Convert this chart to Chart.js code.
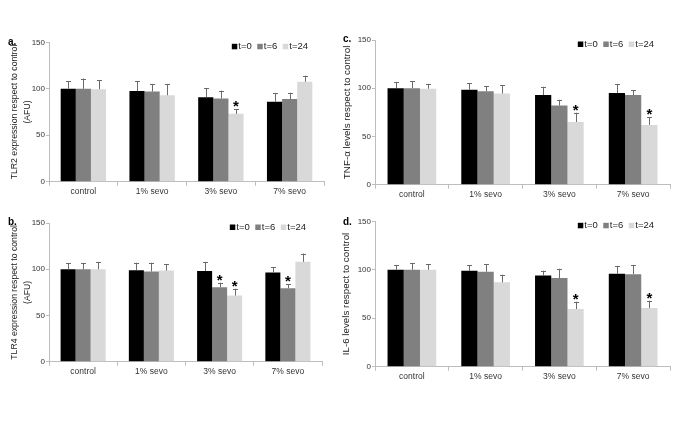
<!DOCTYPE html>
<html>
<head>
<meta charset="utf-8">
<script src="https://cdn.jsdelivr.net/npm/chart.js@4.4.1/dist/chart.umd.min.js"></script>
<style>
  body { margin: 0; background: #fff; width: 685px; height: 447px; overflow: hidden; position: relative; }
  canvas { position: absolute; }
</style>
</head>
<body>
<canvas id="panelA" width="342" height="205" style="left:0;top:0"></canvas>
<canvas id="panelB" width="342" height="242" style="left:0;top:205px"></canvas>
<canvas id="panelC" width="343" height="205" style="left:342px;top:0"></canvas>
<canvas id="panelD" width="343" height="242" style="left:342px;top:205px"></canvas>
<script>
// categories and series
const categories = ['control', '1% sevo', '3% sevo', '7% sevo'];
const seriesLabels = ['t=0', 't=6', 't=24'];
const seriesColors = ['#000000', '#808080', '#d9d9d9'];
const yTicks = [0, 50, 100, 150];

// a. TLR2
const tlr2T0 = [100, 97.5, 91, 86];
const tlr2T6 = [100, 97, 89.5, 89];
const tlr2T24 = [99.5, 93, 73, 107.5];
const tlr2ErrT0 = [8, 10.5, 9.5, 9];
const tlr2ErrT6 = [11, 8, 8.5, 6.7];
const tlr2ErrT24 = [9.5, 12, 5, 6.5];
const tlr2Stars = [[2, 2]]; // [category, series]

// b. TLR4
const tlr4T0 = [100, 99, 98, 96.5];
const tlr4T6 = [100, 97.5, 80.5, 79.5];
const tlr4T24 = [100, 98.5, 71.5, 108];
const tlr4ErrT0 = [6.5, 8, 10, 5.5];
const tlr4ErrT6 = [6.5, 9.5, 5, 4.3];
const tlr4ErrT24 = [8, 7, 7.5, 9];
const tlr4Stars = [[2, 1], [2, 2], [3, 1]];

// c. TNF-a
const tnfT0 = [100, 98.5, 93, 95];
const tnfT6 = [100, 97, 82, 93];
const tnfT24 = [99.5, 94.5, 65, 62];
const tnfErrT0 = [6.5, 6.5, 8.5, 9.5];
const tnfErrT6 = [7, 5, 6, 5];
const tnfErrT24 = [5, 8.5, 9.6, 8];
const tnfStars = [[2, 2], [3, 2]];

// d. IL-6
const il6T0 = [100, 99, 94, 96];
const il6T6 = [100, 98, 91.5, 95.5];
const il6T24 = [100, 87, 59.5, 60.5];
const il6ErrT0 = [5, 6, 5, 8];
const il6ErrT6 = [6.5, 8, 9.5, 9.5];
const il6ErrT24 = [6, 8, 7.5, 7.5];
const il6Stars = [[2, 2], [3, 2]];

const FONT = "'Liberation Sans', Arial, sans-serif";

// error bars, stars, legend and panel letter
const extrasPlugin = {
  id: 'extras',
  afterDatasetsDraw(chart) {
    const ctx = chart.ctx;
    const y = chart.scales.y;
    const opts = chart.options.plugins.extras;
    ctx.save();
    chart.data.datasets.forEach((ds, i) => {
      const meta = chart.getDatasetMeta(i);
      meta.data.forEach((bar, j) => {
        const top = y.getPixelForValue(ds.data[j] + ds.errors[j]);
        ctx.strokeStyle = '#6a6a6a';
        ctx.lineWidth = 1;
        ctx.beginPath();
        ctx.moveTo(Math.round(bar.x) + 0.5, bar.y);
        ctx.lineTo(Math.round(bar.x) + 0.5, top);
        ctx.moveTo(Math.round(bar.x) - 2, Math.round(top) + 0.5);
        ctx.lineTo(Math.round(bar.x) + 3, Math.round(top) + 0.5);
        ctx.stroke();
      });
    });
    // significance stars
    ctx.fillStyle = '#000';
    ctx.font = 'bold 15px ' + FONT;
    ctx.textAlign = 'center';
    ctx.textBaseline = 'alphabetic';
    const m = ctx.measureText('*');
    const mid = (m.actualBoundingBoxAscent - m.actualBoundingBoxDescent) / 2;
    opts.stars.forEach(([c, s]) => {
      const ds = chart.data.datasets[s];
      const bar = chart.getDatasetMeta(s).data[c];
      const top = y.getPixelForValue(ds.data[c] + ds.errors[c]);
      ctx.fillText('*', bar.x, top - 5 + mid);
    });
    // legend
    const area = chart.chartArea;
    ctx.font = '9.5px ' + FONT;
    ctx.textAlign = 'left';
    ctx.textBaseline = 'middle';
    const ly = area.top + 4.5;
    let x = area.right - 16;
    const items = chart.data.datasets.map(d => ({ label: d.label, color: d.backgroundColor }));
    for (let k = items.length - 1; k >= 0; k--) {
      const w = ctx.measureText(items[k].label).width;
      x -= w;
      ctx.fillStyle = '#222';
      ctx.fillText(items[k].label, x, ly);
      x -= 6.5;
      ctx.fillStyle = items[k].color;
      ctx.fillRect(x, ly - 3, 5.5, 5.5);
      x -= 5.5;
    }
    // panel letter
    ctx.fillStyle = '#000';
    ctx.font = 'bold 10px ' + FONT;
    ctx.fillText(opts.letter, opts.letterX, opts.letterY);
    ctx.restore();
  }
};

function makePanel(id, cfg) {
  const datasets = [cfg.t0, cfg.t6, cfg.t24].map((vals, i) => ({
    label: seriesLabels[i],
    data: vals,
    errors: cfg.errs[i],
    backgroundColor: seriesColors[i],
    borderWidth: 0,
    categoryPercentage: 0.66,
    barPercentage: 1
  }));
  return new Chart(document.getElementById(id), {
    type: 'bar',
    data: { labels: categories, datasets: datasets },
    plugins: [extrasPlugin],
    options: {
      responsive: false,
      animation: false,
      layout: { padding: { left: 0, top: cfg.padTop, right: cfg.padRight, bottom: 0 } },
      plugins: {
        legend: { display: false },
        tooltip: { enabled: false },
        extras: { stars: cfg.stars, letter: cfg.letter, letterX: cfg.letterX, letterY: cfg.letterY }
      },
      scales: {
        x: {
          grid: { drawOnChartArea: false, tickLength: 4, color: '#bdbdbd' },
          border: { color: '#bdbdbd' },
          ticks: { font: { family: FONT, size: 8.5 }, color: '#333', padding: 1 },
          afterFit: s => { s.height = cfg.xHeight; }
        },
        y: {
          min: 0,
          max: 150,
          afterBuildTicks: s => { s.ticks = yTicks.map(v => ({ value: v })); },
          grid: { drawOnChartArea: false, tickLength: 3, color: '#bdbdbd' },
          border: { color: '#bdbdbd' },
          ticks: { font: { family: FONT, size: 8 }, color: '#333', padding: 1 },
          title: {
            display: true,
            text: cfg.title,
            color: '#222',
            font: { family: FONT, size: cfg.titleSize, lineHeight: cfg.titleLine },
            padding: { top: cfg.titlePad, bottom: 0 }
          },
          afterFit: s => { s.width = cfg.yWidth; }
        }
      }
    }
  });
}

makePanel('panelA', {
  t0: tlr2T0, t6: tlr2T6, t24: tlr2T24,
  errs: [tlr2ErrT0, tlr2ErrT6, tlr2ErrT24], stars: tlr2Stars,
  title: ['TLR2 expression respect to control', '(AFU)'], titleSize: 8.7, titleLine: '13px', titlePad: 8.5,
  yWidth: 49, padTop: 42.3, padRight: 18, xHeight: 23.3,
  letter: 'a.', letterX: 8, letterY: 42
});
makePanel('panelB', {
  t0: tlr4T0, t6: tlr4T6, t24: tlr4T24,
  errs: [tlr4ErrT0, tlr4ErrT6, tlr4ErrT24], stars: tlr4Stars,
  title: ['TLR4 expression respect to control', '(AFU)'], titleSize: 8.7, titleLine: '13px', titlePad: 8.5,
  yWidth: 49, padTop: 18, padRight: 20, xHeight: 85.3,
  letter: 'b.', letterX: 8, letterY: 17
});
makePanel('panelC', {
  t0: tnfT0, t6: tnfT6, t24: tnfT24,
  errs: [tnfErrT0, tnfErrT6, tnfErrT24], stars: tnfStars,
  title: 'TNF-α levels respect to control', titleSize: 9.8, titleLine: '10px', titlePad: 0,
  yWidth: 33, padTop: 40, padRight: 15, xHeight: 20.3,
  letter: 'c.', letterX: 1, letterY: 39
});
makePanel('panelD', {
  t0: il6T0, t6: il6T6, t24: il6T24,
  errs: [il6ErrT0, il6ErrT6, il6ErrT24], stars: il6Stars,
  title: 'IL-6 levels respect to control', titleSize: 9.8, titleLine: '8px', titlePad: 0,
  yWidth: 33, padTop: 16.3, padRight: 15, xHeight: 80.3,
  letter: 'd.', letterX: 1, letterY: 17
});
</script>
</body>
</html>
